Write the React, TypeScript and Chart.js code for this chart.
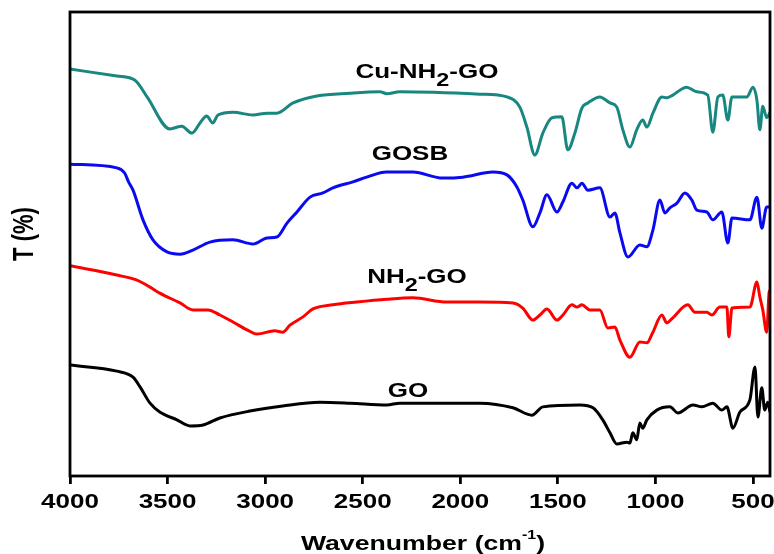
import React, { useEffect, useRef } from "react";
import { Chart, registerables } from "chart.js";

Chart.register(...registerables);

// ---------- Data (wavenumber in cm^-1, transmittance in arbitrary %) ----------
const xTickValues = [4000, 3500, 3000, 2500, 2000, 1500, 1000, 500];

const goWn = [4000, 3760, 3677, 3641, 3590, 3540, 3452, 3385, 3318, 3232, 3078, 2910, 2720, 2565, 2376, 2310, 1900, 1730, 1633, 1577, 1387, 1320, 1270, 1233, 1198, 1146, 1131, 1116, 1096, 1080, 1065, 1044, 993, 926, 885, 808, 762, 706, 660, 634, 603, 567, 516, 490, 475, 455, 440, 424, 413];
const goT = [23.9, 22.6, 21.3, 19.2, 15.7, 13.8, 12.1, 10.8, 11.0, 12.5, 14.0, 15.1, 15.9, 15.7, 15.3, 15.7, 15.7, 14.7, 13.1, 14.9, 15.3, 14.7, 12.1, 9.3, 6.9, 7.3, 7.1, 9.3, 7.8, 11.4, 10.3, 12.1, 14.2, 14.9, 13.6, 15.3, 14.9, 15.7, 14.2, 14.9, 10.3, 13.8, 16.4, 23.5, 12.7, 19.0, 14.2, 15.9, 13.8];

const nh2Wn = [4000, 3760, 3657, 3590, 3540, 3436, 3370, 3293, 3232, 3165, 3093, 3042, 2950, 2910, 2873, 2806, 2755, 2653, 2530, 2376, 2243, 2069, 1900, 1730, 1680, 1628, 1592, 1556, 1505, 1474, 1428, 1402, 1377, 1336, 1285, 1244, 1208, 1182, 1131, 1080, 1044, 1013, 967, 942, 911, 834, 798, 737, 711, 670, 634, 624, 608, 516, 480, 465, 450, 430, 418, 413];
const nh2T = [45.3, 43.3, 42.2, 40.7, 39.4, 37.3, 35.8, 35.8, 34.7, 33.2, 31.5, 30.6, 31.3, 31.0, 32.5, 34.3, 36.0, 36.9, 37.5, 38.1, 38.4, 37.5, 37.5, 37.3, 36.2, 33.6, 34.7, 36.0, 33.6, 34.7, 36.9, 36.4, 36.9, 35.8, 35.8, 31.9, 32.1, 29.3, 25.6, 28.9, 28.7, 31.0, 34.7, 33.0, 34.1, 36.9, 35.3, 35.3, 34.7, 36.4, 36.4, 30.0, 36.2, 36.4, 41.8, 38.6, 35.8, 31.0, 39.4, 40.1];

const gosbWn = [4000, 3760, 3720, 3700, 3677, 3626, 3575, 3503, 3436, 3370, 3283, 3165, 3062, 2990, 2940, 2888, 2837, 2770, 2704, 2653, 2550, 2480, 2378, 2243, 2089, 1987, 1833, 1761, 1710, 1680, 1628, 1592, 1556, 1505, 1474, 1428, 1402, 1377, 1346, 1285, 1233, 1208, 1182, 1141, 1080, 1044, 1013, 977, 952, 926, 890, 849, 814, 788, 737, 706, 660, 629, 608, 516, 480, 455, 430, 413];
const gosbT = [67.2, 66.4, 65.3, 63.4, 61.6, 55.2, 50.9, 48.3, 47.8, 48.7, 50.4, 50.9, 50.0, 51.3, 51.5, 54.5, 56.9, 60.1, 61.0, 62.1, 63.4, 64.4, 65.5, 65.5, 64.2, 64.4, 65.5, 64.9, 62.3, 59.5, 53.7, 56.7, 60.6, 56.9, 59.1, 63.1, 62.1, 63.1, 61.6, 62.1, 55.8, 56.7, 52.4, 47.2, 49.8, 49.4, 53.0, 59.5, 56.7, 57.8, 58.8, 61.0, 59.5, 57.3, 56.9, 55.2, 56.9, 50.2, 55.6, 55.2, 60.1, 53.4, 58.0, 58.0];

const cuWn = [4000, 3760, 3667, 3605, 3488, 3427, 3376, 3330, 3300, 3268, 3242, 3165, 3062, 2990, 2940, 2857, 2735, 2565, 2412, 2376, 2310, 1900, 1761, 1695, 1659, 1618, 1577, 1530, 1480, 1449, 1413, 1377, 1346, 1285, 1233, 1198, 1167, 1131, 1096, 1065, 1044, 1013, 967, 942, 911, 840, 788, 732, 706, 680, 655, 629, 608, 532, 500, 480, 465, 450, 430, 413];
const cuT = [87.7, 86.2, 85.3, 81.7, 74.8, 75.4, 73.9, 76.3, 77.6, 76.1, 77.8, 78.4, 77.8, 78.2, 78.2, 80.4, 81.9, 82.5, 82.8, 82.4, 82.8, 82.3, 81.7, 79.5, 75.2, 69.2, 73.9, 77.2, 77.4, 70.3, 73.9, 79.3, 80.4, 81.7, 80.4, 79.5, 74.6, 70.9, 74.6, 76.7, 75.2, 78.2, 81.7, 81.5, 82.1, 83.8, 82.8, 82.1, 74.1, 81.7, 82.1, 76.7, 81.7, 81.7, 83.8, 81.0, 74.6, 79.7, 77.2, 78.4];

const seriesNames = ["GO", "NH2-GO", "GOSB", "Cu-NH2-GO"];
const seriesColors = ["#000000", "#ff0000", "#0a0af0", "#17877f"];

// ---------- Styling ----------
const FONT = '"Liberation Sans", Arial, Helvetica, sans-serif';
const STRETCH = 1.3;

type Seg = { t: string; mode?: "sub" | "sup" };

const curveLabels: { segs: Seg[]; wn: number; t: number }[] = [
  { segs: [{ t: "Cu-NH" }, { t: "2", mode: "sub" }, { t: "-GO" }], wn: 2171, t: 87.3 },
  { segs: [{ t: "GOSB" }], wn: 2258, t: 69.6 },
  { segs: [{ t: "NH" }, { t: "2", mode: "sub" }, { t: "-GO" }], wn: 2222, t: 43.1 },
  { segs: [{ t: "GO" }], wn: 2268, t: 18.5 },
];

function drawRich(
  ctx: CanvasRenderingContext2D,
  segs: Seg[],
  cx: number,
  cy: number,
  size: number,
  rotate = false
) {
  ctx.save();
  ctx.translate(cx, cy);
  ctx.scale(STRETCH, 1);
  if (rotate) ctx.rotate(-Math.PI / 2);
  ctx.fillStyle = "#000";
  ctx.textBaseline = "alphabetic";
  ctx.textAlign = "left";
  const info = segs.map((s) => {
    const fs = s.mode === "sub" ? size * 0.9 : s.mode === "sup" ? size * 0.6 : size;
    ctx.font = `bold ${fs}px ${FONT}`;
    return { fs, w: ctx.measureText(s.t).width };
  });
  const total = info.reduce((a, b) => a + b.w, 0);
  let x = -total / 2;
  const base = size * 0.358;
  segs.forEach((s, i) => {
    ctx.font = `bold ${info[i].fs}px ${FONT}`;
    let dy = base;
    if (s.mode === "sub") dy += size * 0.38;
    if (s.mode === "sup") dy -= size * 0.55;
    ctx.fillText(s.t, x, dy);
    x += info[i].w;
  });
  ctx.restore();
}

const decorPlugin = {
  id: "decor",
  afterDatasetsDraw(chart: any) {
    const { ctx, chartArea, scales } = chart;
    const xs = scales.x;
    const ys = scales.y;
    // frame
    ctx.save();
    ctx.strokeStyle = "#000";
    ctx.lineWidth = 2.8;
    ctx.strokeRect(chartArea.left, chartArea.top, chartArea.right - chartArea.left, chartArea.bottom - chartArea.top);
    ctx.restore();
    // tick labels
    xTickValues.forEach((v) => {
      drawRich(ctx, [{ t: String(v) }], xs.getPixelForValue(v), chartArea.bottom + 25, 20);
    });
    // axis titles
    drawRich(
      ctx,
      [{ t: "Wavenumber (cm" }, { t: "-1", mode: "sup" }, { t: ")" }],
      (chartArea.left + chartArea.right) / 2 + 3,
      chartArea.bottom + 67,
      20.5
    );
    drawRich(ctx, [{ t: "T (%)" }], 23, (chartArea.top + chartArea.bottom) / 2 - 10, 22, true);
    // curve labels
    curveLabels.forEach((l) => {
      drawRich(ctx, l.segs, xs.getPixelForValue(l.wn), ys.getPixelForValue(l.t), 20);
    });
  },
};

function pts(wn: number[], t: number[]) {
  return wn.map((x, i) => ({ x, y: t[i] }));
}

export default function App() {
  const ref = useRef<HTMLCanvasElement | null>(null);
  useEffect(() => {
    if (!ref.current) return;
    const data = [pts(goWn, goT), pts(nh2Wn, nh2T), pts(gosbWn, gosbT), pts(cuWn, cuT)];
    const chart = new Chart(ref.current, {
      type: "line",
      data: {
        datasets: data.map((d, i) => ({
          label: seriesNames[i],
          data: d,
          borderColor: seriesColors[i],
          backgroundColor: seriesColors[i],
          borderWidth: 3,
          pointRadius: 0,
          fill: false,
          cubicInterpolationMode: "monotone" as const,
        })),
      },
      options: {
        responsive: false,
        animation: false,
        devicePixelRatio: 1,
        layout: { padding: { top: 12, right: 4, left: 0, bottom: 0 } },
        plugins: { legend: { display: false }, tooltip: { enabled: false } },
        scales: {
          x: {
            type: "linear",
            reverse: true,
            min: 413,
            max: 4000,
            afterBuildTicks: (s: any) => {
              s.ticks = xTickValues.map((v) => ({ value: v }));
            },
            afterFit: (s: any) => {
              s.height = 78;
            },
            ticks: { display: false },
            grid: {
              display: true,
              drawOnChartArea: false,
              drawTicks: true,
              tickLength: 8,
              color: "#000",
              lineWidth: 2.8,
            },
            border: { display: false },
          },
          y: {
            type: "linear",
            min: 0,
            max: 100,
            afterFit: (s: any) => {
              s.width = 70;
            },
            ticks: { display: false },
            grid: { display: false, drawTicks: false },
            border: { display: false },
          },
        },
      },
      plugins: [decorPlugin],
    });
    return () => chart.destroy();
  }, []);
  return (
    <div style={{ position: "fixed", left: 0, top: 0, width: 774, height: 554, background: "#fff" }}>
      <canvas ref={ref} width={774} height={554} />
    </div>
  );
}
